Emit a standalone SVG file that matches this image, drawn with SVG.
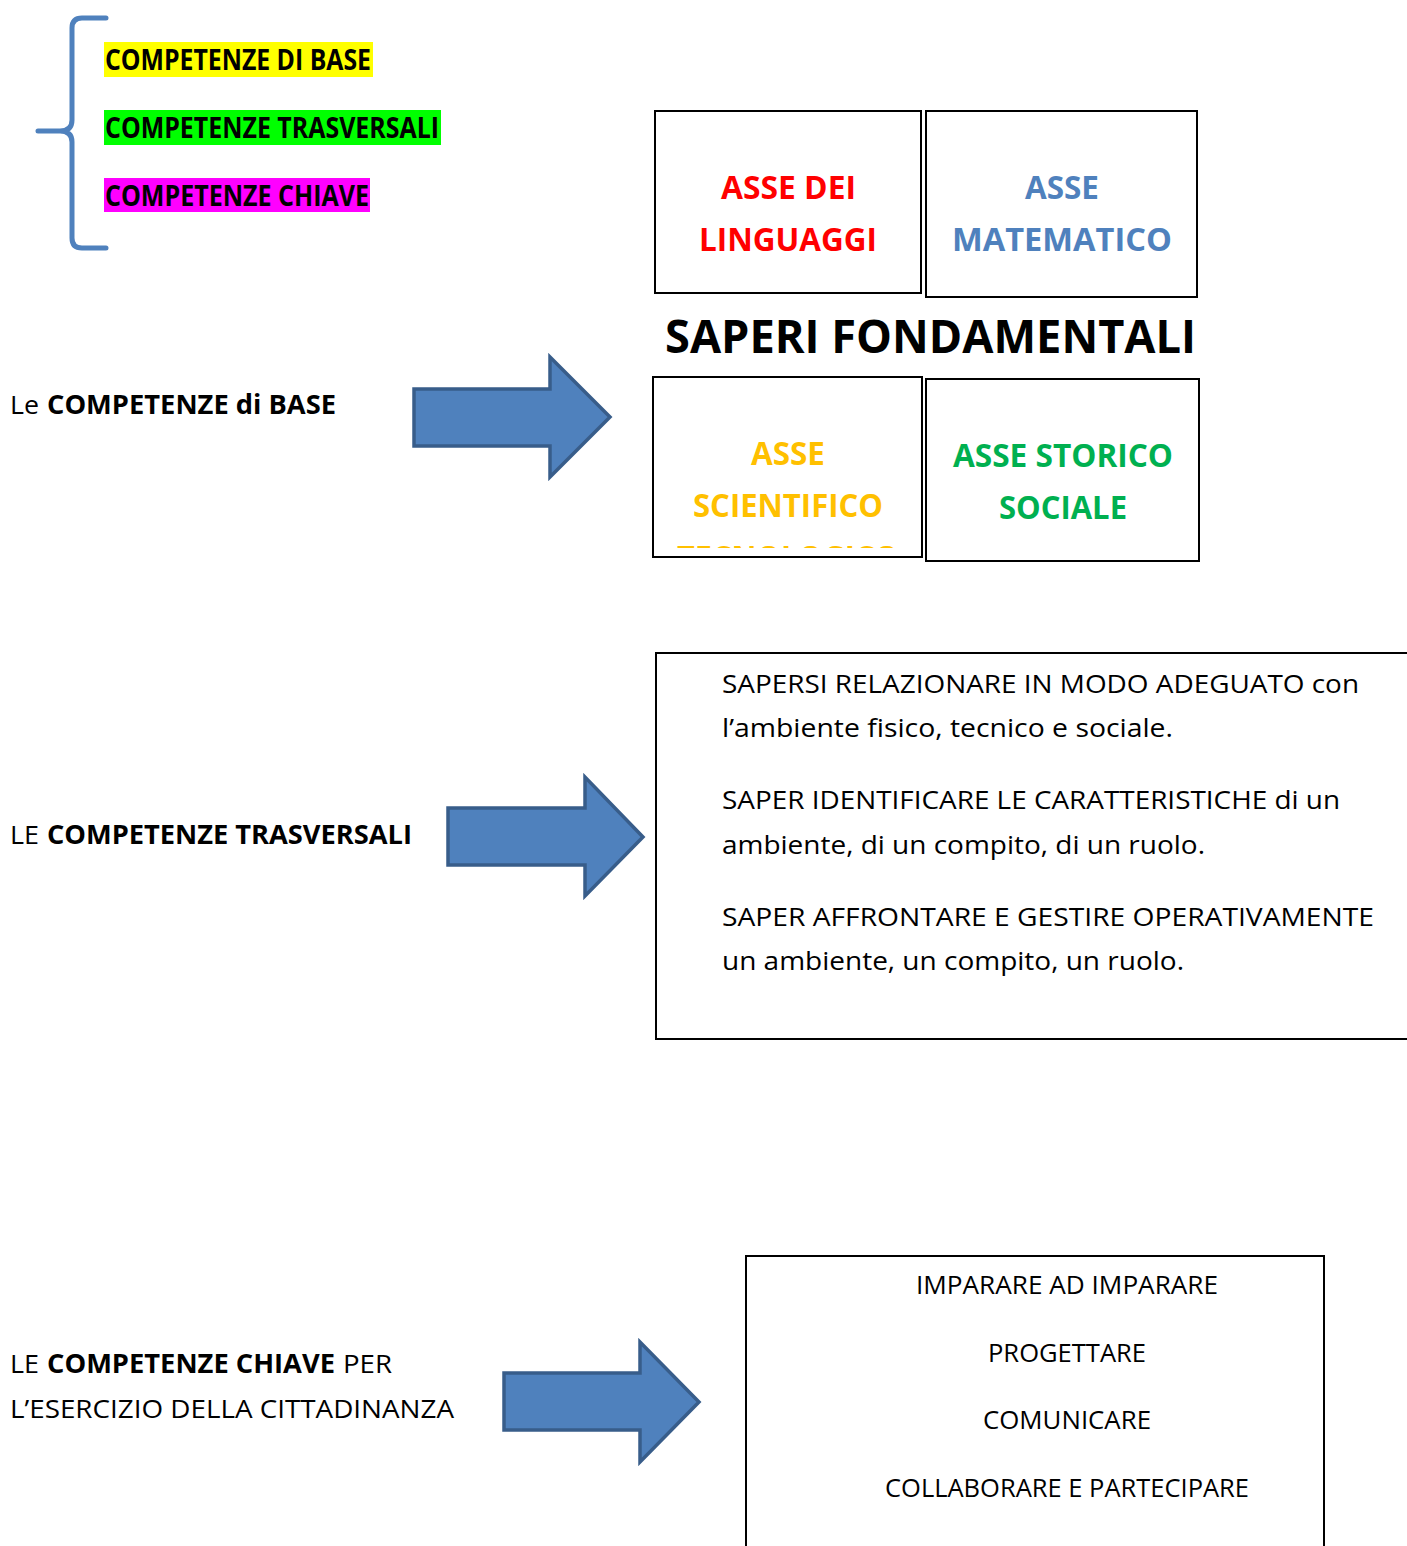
<svg xmlns="http://www.w3.org/2000/svg" width="1407" height="1546" viewBox="0 0 1407 1546">
<style>
text{font-family:"Open Sans","Noto Sans","Liberation Sans",sans-serif;fill:#000}
.b{font-weight:bold}
.lbl{font-size:28px;font-weight:bold}
.ax{font-size:33px;font-weight:bold;text-anchor:middle}
.t{font-size:26px}
.box{fill:#fff;stroke:#000;stroke-width:2}
.arrow{fill:#4F81BD;stroke:#385D8A;stroke-width:3.5}
</style>
<defs>
<clipPath id="clip3"><rect x="653" y="377" width="269" height="171"/></clipPath>
</defs>
<rect width="1407" height="1546" fill="#fff"/>

<g id="brace">
<path d="M106,18 L82,18 Q72,18 72,28 L72,120 Q72,131 60,131 L38,131 M60,131 Q72,131 72,142 L72,238 Q72,248 82,248 L106,248" fill="none" stroke="#4F81BD" stroke-width="5" stroke-linecap="round" stroke-linejoin="round"/>
</g>

<g id="legend-base">
<rect x="104" y="42" width="269" height="35" fill="#FFFF00"/>
<text class="lbl" x="105" y="70" textLength="266" lengthAdjust="spacingAndGlyphs">COMPETENZE DI BASE</text>
</g>
<g id="legend-trasv">
<rect x="104" y="110" width="337" height="35" fill="#00FF00"/>
<text class="lbl" x="105" y="138" textLength="334" lengthAdjust="spacingAndGlyphs">COMPETENZE TRASVERSALI</text>
</g>
<g id="legend-chiave">
<rect x="104" y="178" width="266" height="34" fill="#FF00FF"/>
<text class="lbl" x="105" y="206" textLength="264" lengthAdjust="spacingAndGlyphs">COMPETENZE CHIAVE</text>
</g>

<g id="asse-linguaggi">
<rect class="box" x="655" y="111" width="266" height="182"/>
<text class="ax" x="788.5" y="199" fill="#FF0000" style="fill:#FF0000" textLength="135" lengthAdjust="spacingAndGlyphs">ASSE DEI</text>
<text class="ax" x="788" y="251" style="fill:#FF0000" textLength="178" lengthAdjust="spacingAndGlyphs">LINGUAGGI</text>
</g>
<g id="asse-matematico">
<rect class="box" x="926" y="111" width="271" height="186"/>
<text class="ax" x="1062" y="199" style="fill:#4F81BD" textLength="74" lengthAdjust="spacingAndGlyphs">ASSE</text>
<text class="ax" x="1062" y="251" style="fill:#4F81BD" textLength="220" lengthAdjust="spacingAndGlyphs">MATEMATICO</text>
</g>

<g id="saperi">
<text x="930.5" y="353" font-size="46" class="b" text-anchor="middle" textLength="531" lengthAdjust="spacingAndGlyphs">SAPERI FONDAMENTALI</text>
</g>

<g id="asse-scientifico">
<rect class="box" x="653" y="377" width="269" height="180"/>
<g clip-path="url(#clip3)">
<text class="ax" x="788" y="465" style="fill:#FFC000" textLength="74" lengthAdjust="spacingAndGlyphs">ASSE</text>
<text class="ax" x="788" y="517" style="fill:#FFC000" textLength="190" lengthAdjust="spacingAndGlyphs">SCIENTIFICO</text>
<text class="ax" x="788" y="569" style="fill:#FFC000" textLength="222" lengthAdjust="spacingAndGlyphs">TECNOLOGICO</text>
</g>
</g>
<g id="asse-storico">
<rect class="box" x="926" y="379" width="273" height="182"/>
<text class="ax" x="1063" y="467" style="fill:#00B050" textLength="220" lengthAdjust="spacingAndGlyphs">ASSE STORICO</text>
<text class="ax" x="1063" y="519" style="fill:#00B050" textLength="128" lengthAdjust="spacingAndGlyphs">SOCIALE</text>
</g>

<g id="label-base">
<text class="t" x="10" y="414" textLength="29" lengthAdjust="spacingAndGlyphs">Le</text>
<text class="t b" x="47" y="414" textLength="289" lengthAdjust="spacingAndGlyphs">COMPETENZE di BASE</text>
</g>
<g id="label-trasv">
<text class="t" x="10" y="844" textLength="29" lengthAdjust="spacingAndGlyphs">LE</text>
<text class="t b" x="47" y="844" textLength="365" lengthAdjust="spacingAndGlyphs">COMPETENZE TRASVERSALI</text>
</g>
<g id="label-chiave">
<text class="t" x="10" y="1373" textLength="29" lengthAdjust="spacingAndGlyphs">LE</text>
<text class="t b" x="47" y="1373" textLength="288" lengthAdjust="spacingAndGlyphs">COMPETENZE CHIAVE</text>
<text class="t" x="343" y="1373" textLength="49" lengthAdjust="spacingAndGlyphs">PER</text>
<text class="t" x="10" y="1418" textLength="444" lengthAdjust="spacingAndGlyphs">L’ESERCIZIO DELLA CITTADINANZA</text>
</g>

<g id="connectors">
<polygon class="arrow" points="414,389 550,389 550,357 610,417 550,477 550,446 414,446"/>
<polygon class="arrow" points="448,808 585,808 585,777 643,837 585,896 585,865 448,865"/>
<polygon class="arrow" points="504,1373 640,1373 640,1342 699,1402 640,1462 640,1430 504,1430"/>
</g>

<g id="box-trasversali">
<rect class="box" x="656" y="653" width="760" height="386"/>
<text class="t" x="722" y="693" textLength="637" lengthAdjust="spacingAndGlyphs">SAPERSI RELAZIONARE IN MODO ADEGUATO con</text>
<text class="t" x="722" y="737" textLength="451" lengthAdjust="spacingAndGlyphs">l’ambiente fisico, tecnico e sociale.</text>
<text class="t" x="722" y="809" textLength="618" lengthAdjust="spacingAndGlyphs">SAPER IDENTIFICARE LE CARATTERISTICHE di un</text>
<text class="t" x="722" y="854" textLength="483" lengthAdjust="spacingAndGlyphs">ambiente, di un compito, di un ruolo.</text>
<text class="t" x="722" y="926" textLength="652" lengthAdjust="spacingAndGlyphs">SAPER AFFRONTARE E GESTIRE OPERATIVAMENTE</text>
<text class="t" x="722" y="970" textLength="462" lengthAdjust="spacingAndGlyphs">un ambiente, un compito, un ruolo.</text>
</g>

<g id="box-chiave">
<rect class="box" x="746" y="1256" width="578" height="300"/>
<text class="t" x="916" y="1294" textLength="302" lengthAdjust="spacingAndGlyphs">IMPARARE AD IMPARARE</text>
<text class="t" x="988" y="1362" textLength="158" lengthAdjust="spacingAndGlyphs">PROGETTARE</text>
<text class="t" x="983" y="1429" textLength="168" lengthAdjust="spacingAndGlyphs">COMUNICARE</text>
<text class="t" x="885" y="1497" textLength="364" lengthAdjust="spacingAndGlyphs">COLLABORARE E PARTECIPARE</text>
</g>
</svg>
